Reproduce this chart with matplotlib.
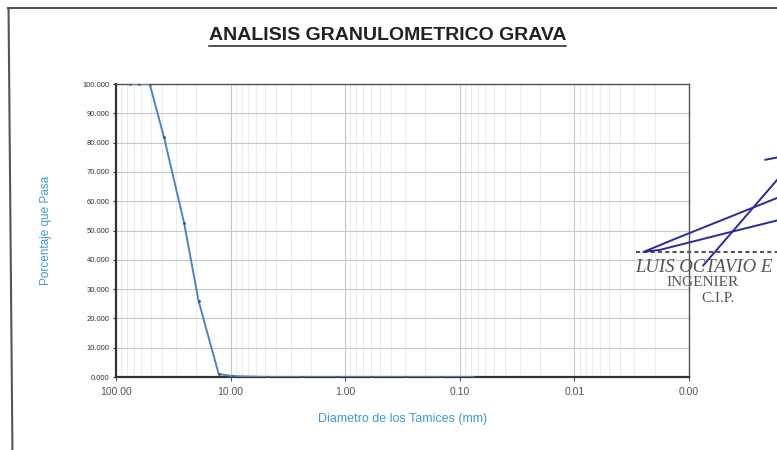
import matplotlib
matplotlib.use("Agg")
import matplotlib.pyplot as plt
from matplotlib.ticker import FixedLocator, FuncFormatter, LogLocator, NullFormatter
from matplotlib.lines import Line2D

# sieve openings (mm) and percent passing
abertura = [76.2, 63.5, 50.8, 38.1, 25.4, 19.05, 12.7, 9.525, 4.75, 2.36, 1.18, 0.60, 0.30, 0.15, 0.075]
pasa = [100.0, 100.0, 100.0, 81.8, 52.4, 26.0, 1.0, 0.3, 0.0, 0.0, 0.0, 0.0, 0.0, 0.0, 0.0]

x_ticks = [100, 10, 1, 0.1, 0.01, 0.001]
y_ticks = [0, 10, 20, 30, 40, 50, 60, 70, 80, 90, 100]

titulo = "ANALISIS GRANULOMETRICO GRAVA"
x_label = "Diametro de los Tamices (mm)"
y_label = "Porcentaje que Pasa"

plt.rcParams['font.family'] = ['Liberation Sans', 'DejaVu Sans']

fig = plt.figure(figsize=(7.77, 4.5), dpi=100)
ax = fig.add_axes([0.1493, 0.1622, 0.7375, 0.6511])

ax.set_xscale('log')
ax.set_xlim(100, 0.001)
ax.set_ylim(0, 100)

# grid
ax.xaxis.set_major_locator(FixedLocator(x_ticks))
ax.xaxis.set_minor_locator(LogLocator(base=10, subs=range(2, 10), numticks=20))
ax.xaxis.set_minor_formatter(NullFormatter())
ax.xaxis.set_major_formatter(FuncFormatter(lambda v, p: f"{v:.2f}"))
ax.yaxis.set_major_locator(FixedLocator(y_ticks))
ax.yaxis.set_major_formatter(FuncFormatter(lambda v, p: f"{v:.3f}"))
ax.grid(True, which='major', color='#c8c8c8', linewidth=0.8)
ax.grid(True, which='minor', axis='x', color='#e6e6e6', linewidth=0.6)
ax.set_axisbelow(True)

ax.tick_params(axis='x', which='major', labelsize=7.5, length=3, colors='#555555', pad=4)
ax.tick_params(axis='x', which='minor', length=0)
ax.tick_params(axis='y', labelsize=5.5, length=2.5, colors='#333333', pad=2)

for s in ax.spines.values():
    s.set_color('#555555')
    s.set_linewidth(1.0)
ax.spines['left'].set_linewidth(1.6)
ax.spines['bottom'].set_linewidth(1.6)
ax.spines['left'].set_color('#333333')
ax.spines['bottom'].set_color('#333333')

# curve
ax.plot(abertura, pasa, color='#4a86c5', linewidth=1.4, zorder=3,
        marker='o', markersize=1.0, markerfacecolor='#4a4a6a', markeredgecolor='#4a4a6a')

ax.set_xlabel(x_label, color='#3d9ad6', fontsize=9, labelpad=12)
ax.set_ylabel(y_label, color='#3d9ad6', fontsize=8.5, labelpad=22)

# title
t = fig.text(0.499, 0.922, titulo, ha='center', va='center', fontsize=14,
             fontweight='bold', color='#222222')
fig.canvas.draw()
bb = t.get_window_extent()
W, H = fig.bbox.width, fig.bbox.height
fig.add_artist(Line2D([bb.x0 / W, bb.x1 / W], [(bb.y0 - 2) / H, (bb.y0 - 2) / H],
                      color='#222222', linewidth=1.1))

# page frame
fig.add_artist(Line2D([0.010, 1.0], [0.982, 0.982], color='#555555', linewidth=1.5))
fig.add_artist(Line2D([0.011, 0.016], [0.982, 0.0], color='#555555', linewidth=1.5))

# stamp and signature
fig.add_artist(Line2D([0.818, 1.0], [0.44, 0.44], color='#555555', linewidth=1.5,
                      linestyle=(0, (2, 1.5))))
fig.text(0.818, 0.405, "LUIS OCTAVIO E", family='Liberation Serif', style='italic',
         fontsize=13.5, color='#555555', va='center')
fig.text(0.858, 0.372, "INGENIER", family='Liberation Serif', fontsize=11,
         color='#555555', va='center')
fig.text(0.903, 0.336, "C.I.P.", family='Liberation Serif', fontsize=11,
         color='#555555', va='center')
sig_x = [1.0, 0.87, 0.828, 0.85, 0.93, 1.0]
sig_y = [0.56, 0.47, 0.44, 0.445, 0.48, 0.51]
fig.add_artist(Line2D(sig_x, sig_y, color='#2a2aa0', linewidth=1.4))
fig.add_artist(Line2D([1.0, 0.905], [0.60, 0.41], color='#2a2aa0', linewidth=1.4))
fig.add_artist(Line2D([0.985, 1.0], [0.645, 0.65], color='#2a2aa0', linewidth=1.4))

fig.savefig('out.png', dpi=100)
